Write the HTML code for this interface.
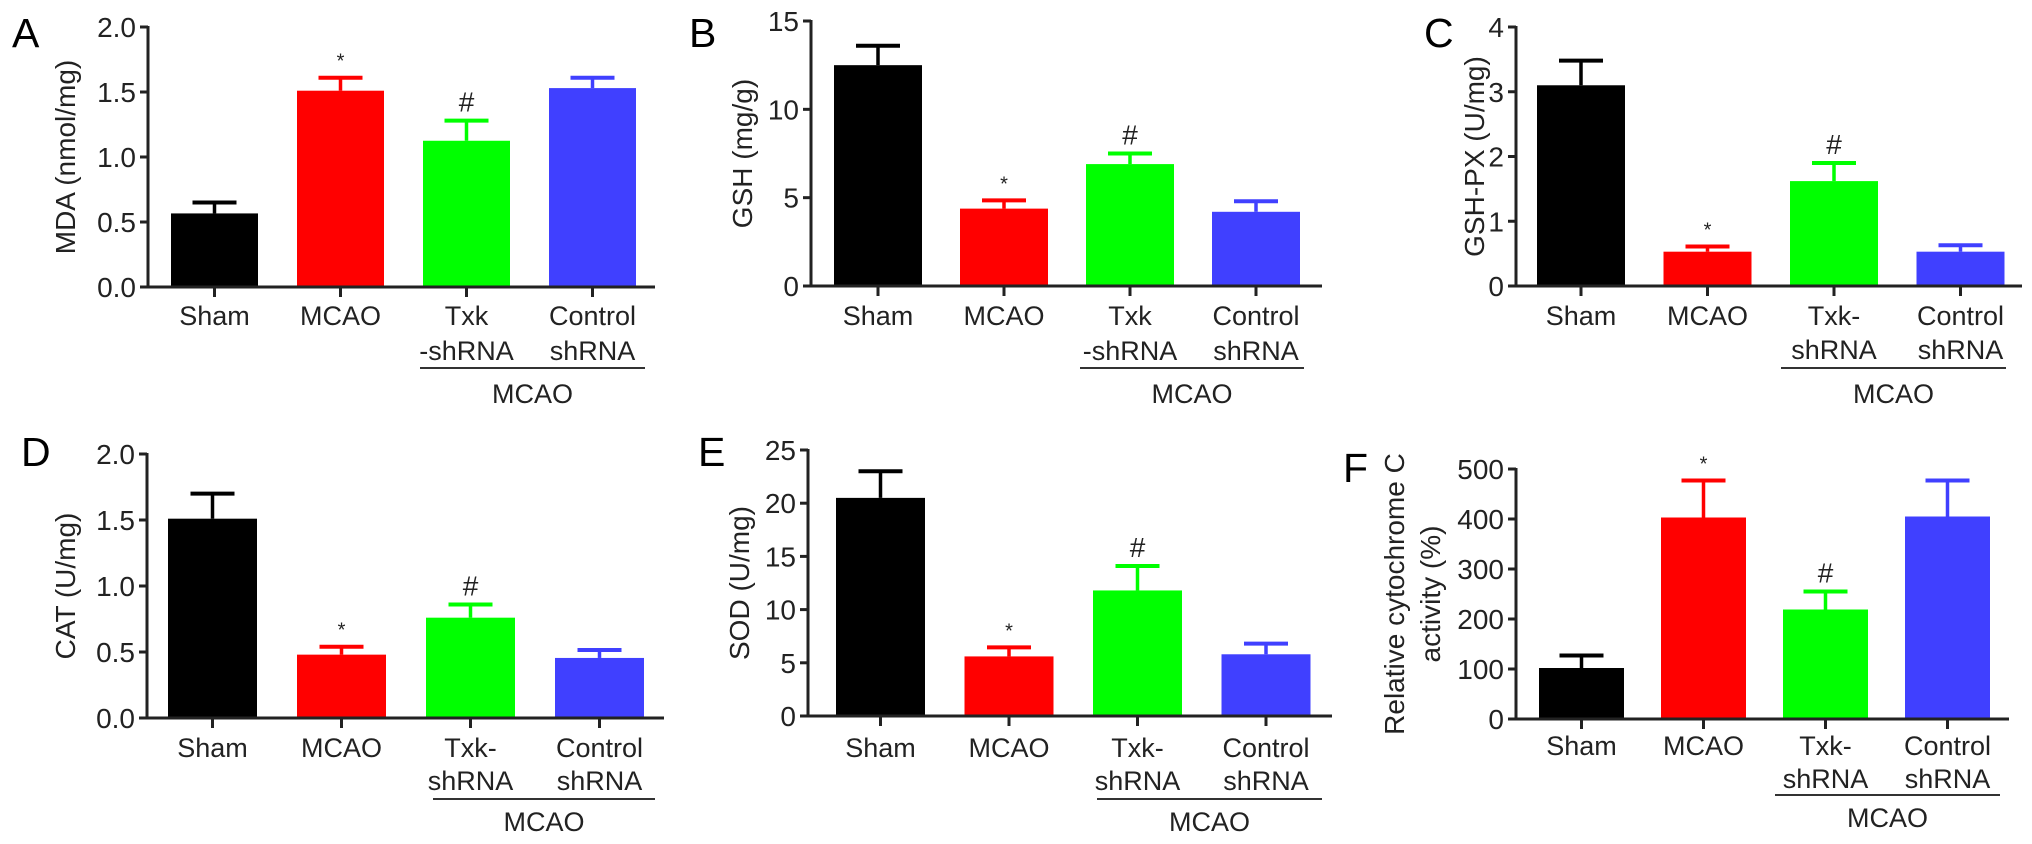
<!DOCTYPE html>
<html><head><meta charset="utf-8"><style>
body{margin:0;background:#fff;}
svg{display:block;font-family:"Liberation Sans",Arial,sans-serif;}
</style></head><body>
<svg id="fig" width="2032" height="844" viewBox="0 0 2032 844" xmlns="http://www.w3.org/2000/svg"></svg>
<script>
const categories = ["Sham","MCAO","Txk-shRNA","Control shRNA"];
const mdaValues = [0.566,1.51,1.125,1.53];
const mdaErrors = [0.084,0.10,0.155,0.08];
const gshValues = [12.5,4.38,6.9,4.2];
const gshErrors = [1.1,0.47,0.6,0.6];
const gshpxValues = [3.1,0.53,1.62,0.53];
const gshpxErrors = [0.38,0.08,0.28,0.1];
const catValues = [1.51,0.48,0.76,0.455];
const catErrors = [0.19,0.06,0.10,0.06];
const sodValues = [20.5,5.6,11.8,5.8];
const sodErrors = [2.5,0.85,2.3,1.0];
const cytcValues = [102,403,219,405];
const cytcErrors = [25,74,36,72];
const mdaTicks = ["0.0","0.5","1.0","1.5","2.0"];
const gshTicks = ["0","5","10","15"];
const gshpxTicks = ["0","1","2","3","4"];
const catTicks = ["0.0","0.5","1.0","1.5","2.0"];
const sodTicks = ["0","5","10","15","20","25"];
const cytcTicks = ["0","100","200","300","400","500"];
const marks = ["","*","#",""];
const colors = ["#000000","#ff0000","#00ff00","#4040ff"];

const NS="http://www.w3.org/2000/svg";
const svg=document.getElementById('fig');
function mk(tag,attrs,parent){const e=document.createElementNS(NS,tag);for(const k in attrs)e.setAttribute(k,attrs[k]);(parent||svg).appendChild(e);return e;}

const panels=[
 {id:'a',letter:'A',lx:12,ly:47,ax:148,top:27,bot:287,end:655,b0:171,step:126,bw:87,vals:mdaValues,errs:mdaErrors,ticks:mdaTicks,max:2.0,title:["MDA (nmol/mg)"],tx:[75],txk:["Txk","-shRNA"],ly1:325,ly2:360,ul:368,my:403,ulx:[420,645]},
 {id:'b',letter:'B',lx:689,ly:47,ax:811,top:21,bot:286,end:1322,b0:834,step:126,bw:88,vals:gshValues,errs:gshErrors,ticks:gshTicks,max:15,title:["GSH (mg/g)"],tx:[752],txk:["Txk","-shRNA"],ly1:325,ly2:360,ul:368,my:403,ulx:[1080,1304]},
 {id:'c',letter:'C',lx:1424,ly:47,ax:1516,top:27,bot:286,end:2022,b0:1537,step:126.5,bw:88,vals:gshpxValues,errs:gshpxErrors,ticks:gshpxTicks,max:4,title:["GSH-PX (U/mg)"],tx:[1484],txk:["Txk-","shRNA"],ly1:325,ly2:359,ul:368,my:403,ulx:[1781,2006]},
 {id:'d',letter:'D',lx:21,ly:466,ax:147,top:454,bot:718,end:664,b0:168,step:129,bw:89,vals:catValues,errs:catErrors,ticks:catTicks,max:2.0,title:["CAT (U/mg)"],tx:[75],txk:["Txk-","shRNA"],ly1:757,ly2:790,ul:799,my:831,ulx:[433,655]},
 {id:'e',letter:'E',lx:698,ly:466,ax:808,top:450,bot:716,end:1332,b0:836,step:128.5,bw:89,vals:sodValues,errs:sodErrors,ticks:sodTicks,max:25,title:["SOD (U/mg)"],tx:[749],txk:["Txk-","shRNA"],ly1:757,ly2:790,ul:799,my:831,ulx:[1097,1322]},
 {id:'f',letter:'F',lx:1343,ly:482,ax:1516,top:469,bot:719,end:2009,b0:1539,step:122,bw:85,vals:cytcValues,errs:cytcErrors,ticks:cytcTicks,max:500,title:["Relative cytochrome C","activity (%)"],tx:[1404,1440],txk:["Txk-","shRNA"],ly1:755,ly2:788,ul:795,my:827,ulx:[1775,2000]}
];

panels.forEach(p=>{
  const g=mk('g',{});
  
  
  const y=v=>p.bot-(v/p.max)*(p.bot-p.top);
  const L=mk('text',{x:p.lx,y:p.ly,'font-size':41},g);L.textContent=p.letter;
  
  
  p.vals.forEach((v,i)=>{
    const x=p.b0+i*p.step, cx=x+p.bw/2, yt=y(v), ye=y(v+p.errs[i]);
    const el=mk('line',{x1:cx,x2:cx,y1:yt,y2:ye,stroke:colors[i],'stroke-width':3.5},g);
    
    
    const cap=mk('line',{x1:cx-22,x2:cx+22,y1:ye,y2:ye,stroke:colors[i],'stroke-width':4},g);
    
    
    const r=mk('rect',{x:x,y:yt,width:p.bw,height:p.bot-yt,fill:colors[i]},g);
    
    
    if(marks[i]){const m=mk('text',{x:cx,y:ye-(marks[i]=='*'?10:9),'font-size':marks[i]=='*'?20:28,'text-anchor':'middle',fill:'#222'},g);m.textContent=marks[i];
      
      }
    const t=mk('line',{x1:cx,x2:cx,y1:p.bot,y2:p.bot+10,stroke:'#222','stroke-width':3},g);
    
    
    const lines=i==2?p.txk:(i==3?["Control","shRNA"]:[categories[i]]);
    lines.forEach((s,k)=>{
      const tl=mk('text',{x:cx,y:k==0?p.ly1:p.ly2,'font-size':27,'text-anchor':'middle',fill:'#222'},g);tl.textContent=s;
      
      
    });
  });
  const ya=mk('line',{x1:p.ax,x2:p.ax,y1:p.top-1,y2:p.bot+1,stroke:'#222','stroke-width':3},g);
  
  
  const xa=mk('line',{x1:p.ax-1,x2:p.end,y1:p.bot,y2:p.bot,stroke:'#222','stroke-width':3},g);
  
  
  p.ticks.forEach(s=>{
    const v=parseFloat(s), yy=y(v);
    const tk=mk('line',{x1:p.ax-8,x2:p.ax,y1:yy,y2:yy,stroke:'#222','stroke-width':3},g);
    
    
    const tl=mk('text',{x:p.ax-12,y:yy+10,'font-size':28,'text-anchor':'end',fill:'#222'},g);tl.textContent=s;
    
    
  });
  const my=(p.top+p.bot)/2;
  p.title.forEach((s,k)=>{
    const tt=mk('text',{x:p.tx[k],y:my,'font-size':28,'text-anchor':'middle',fill:'#222',transform:`rotate(-90 ${p.tx[k]} ${my})`},g);tt.textContent=s;
    
    
  });
  const ul=mk('line',{x1:p.ulx[0],x2:p.ulx[1],y1:p.ul,y2:p.ul,stroke:'#333','stroke-width':2},g);
  
  
  const gl=mk('text',{x:(p.ulx[0]+p.ulx[1])/2,y:p.my,'font-size':27,'text-anchor':'middle',fill:'#222'},g);gl.textContent='MCAO';
  
  
});
</script>
</body></html>
